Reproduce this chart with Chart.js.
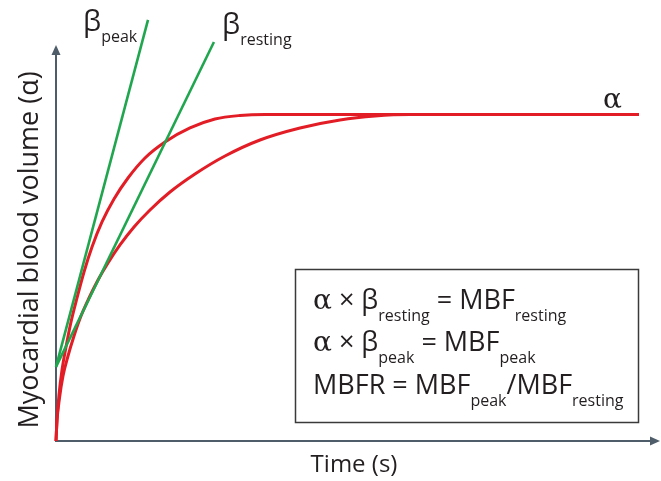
<!DOCTYPE html>
<html>
<head>
<meta charset="utf-8">
<script src="https://cdn.jsdelivr.net/npm/chart.js@4.4.0/dist/chart.umd.min.js"></script>
<style>
  html, body { margin: 0; padding: 0; background: #fff; }
  #wrap { width: 661px; height: 481px; }
</style>
</head>
<body>
<div id="wrap"><canvas id="chart" width="661" height="481"></canvas></div>
<script>
// Uptake curves (time in s, blood volume normalised to the plateau α),
// read off the figure. Fast = peak stress, slow = resting.
const FAST_T = [0, 0.099, 0.298, 0.596, 0.993, 1.49, 2.086, 2.781, 3.576, 4.57, 5.762, 7.152, 8.841, 10.828, 13.311, 15.795, 18.278, 20.762, 57.91];
const FAST_V = [0, 0.0643, 0.1409, 0.2175, 0.2879, 0.3645, 0.438, 0.5176, 0.5942, 0.6708, 0.7412, 0.8055, 0.8668, 0.9158, 0.9587, 0.9862, 0.9969, 1.0, 1.0];
const SLOW_T = [0, 0.099, 0.348, 0.695, 1.192, 1.788, 2.483, 3.278, 4.172, 5.166, 6.358, 7.748, 9.338, 11.325, 13.808, 16.788, 20.265, 24.238, 28.212, 31.689, 35.166, 57.91];
const SLOW_V = [0, 0.0613, 0.1317, 0.1991, 0.2603, 0.3216, 0.3828, 0.438, 0.4931, 0.5452, 0.6003, 0.6554, 0.7075, 0.7626, 0.8178, 0.8729, 0.9219, 0.9587, 0.9832, 0.9954, 1.0, 1.0];

// Initial-slope lines (β) — start and end point of each
const PEAK_T = [0, 9.14];
const PEAK_V = [0.227, 1.29];
const REST_T = [0, 15.69];
const REST_V = [0.227, 1.222];

const Y_AXIS_TOP = 1.213;   // where the y arrow stops
const X_AXIS_END = 60;      // where the x arrow stops
const ALPHA_LEVEL = 1.0;

const RED = "#e21d26";
const GREEN = "#20a64e";
const AXIS = "#4e5d69";
const INK = "#231f20";

const MAIN = '27px "Open Sans"';
const SUB = '16px "Open Sans"';
const SERIF = '28px "DejaVu Serif"';

const pts = (ts, vs) => ts.map((t, i) => ({ x: t, y: vs[i] }));

// draw a run of text pieces one after the other: [text, font, dy]
function flow(ctx, x, base, parts) {
  for (const [txt, font, dy] of parts) {
    ctx.font = font;
    ctx.fillText(txt, x, base + (dy || 0));
    x += ctx.measureText(txt).width;
  }
  return x;
}

const decor = {
  id: "decor",
  beforeDatasetsDraw(chart) {
    const { ctx, scales: { x, y } } = chart;
    const x0 = x.getPixelForValue(0), y0 = y.getPixelForValue(0);
    const yTop = y.getPixelForValue(Y_AXIS_TOP);
    const xEnd = x.getPixelForValue(X_AXIS_END);
    ctx.save();
    ctx.strokeStyle = AXIS;
    ctx.fillStyle = AXIS;
    ctx.lineWidth = 2;
    ctx.beginPath();
    ctx.moveTo(x0, y0 + 1);
    ctx.lineTo(x0, yTop + 8);
    ctx.moveTo(x0 - 1, y0);
    ctx.lineTo(xEnd - 8, y0);
    ctx.stroke();
    ctx.beginPath();
    ctx.moveTo(x0, yTop);
    ctx.lineTo(x0 - 4.5, yTop + 10);
    ctx.lineTo(x0 + 4.5, yTop + 10);
    ctx.closePath();
    ctx.fill();
    ctx.beginPath();
    ctx.moveTo(xEnd, y0);
    ctx.lineTo(xEnd - 10, y0 - 4.5);
    ctx.lineTo(xEnd - 10, y0 + 4.5);
    ctx.closePath();
    ctx.fill();
    ctx.restore();
  },
  afterDraw(chart) {
    const { ctx, scales: { y } } = chart;
    ctx.save();
    ctx.fillStyle = INK;
    ctx.textBaseline = "alphabetic";

    // axis titles
    ctx.font = '27px "Open Sans"';
    ctx.textAlign = "center";
    ctx.save();
    ctx.translate(38, 250);
    ctx.rotate(-Math.PI / 2);
    ctx.fillText("Myocardial blood volume (α)", 0, 0);
    ctx.restore();
    ctx.font = '24px "Open Sans"';
    ctx.fillText("Time (s)", 354, 472);
    ctx.textAlign = "left";

    // curve labels
    flow(ctx, 83, 31, [["β", '29px "Open Sans"'], ["peak", SUB, 11]]);
    flow(ctx, 222, 34, [["β", '29px "Open Sans"'], ["resting", SUB, 11]]);
    ctx.font = SERIF;
    ctx.fillText("α", 603, y.getPixelForValue(ALPHA_LEVEL) - 6);

    // equation box
    ctx.strokeStyle = "#3a3a3a";
    ctx.lineWidth = 1.5;
    ctx.strokeRect(295.5, 269.5, 343, 153);
    const d = 12;
    flow(ctx, 313, 309, [
      ["α", SERIF], [" × ", MAIN], ["β", MAIN], ["resting", SUB, d],
      [" = ", MAIN], ["MBF", MAIN], ["resting", SUB, d],
    ]);
    flow(ctx, 313, 351, [
      ["α", SERIF], [" × ", MAIN], ["β", MAIN], ["peak", SUB, d],
      [" = ", MAIN], ["MBF", MAIN], ["peak", SUB, d],
    ]);
    flow(ctx, 313, 394, [
      ["MBFR", MAIN], [" = ", MAIN], ["MBF", MAIN], ["peak", SUB, d],
      ["/MBF", MAIN], ["resting", SUB, d],
    ]);
    ctx.restore();
  },
};

new Chart(document.getElementById("chart"), {
  type: "scatter",
  data: {
    datasets: [
      { label: "β peak", data: pts(PEAK_T, PEAK_V), borderColor: GREEN, borderWidth: 2.6 },
      { label: "β resting", data: pts(REST_T, REST_V), borderColor: GREEN, borderWidth: 2.6 },
      { label: "peak", data: pts(FAST_T, FAST_V), borderColor: RED, borderWidth: 3, cubicInterpolationMode: "monotone" },
      { label: "resting", data: pts(SLOW_T, SLOW_V), borderColor: RED, borderWidth: 3, cubicInterpolationMode: "monotone" },
    ].map((ds) => ({ ...ds, showLine: true, pointRadius: 0, fill: false, clip: false })),
  },
  options: {
    responsive: false,
    devicePixelRatio: 1,
    animation: false,
    layout: { padding: { left: 56, top: 10, right: 1, bottom: 40 } },
    plugins: { legend: { display: false }, tooltip: { enabled: false } },
    scales: {
      x: { type: "linear", min: 0, max: 60, display: false },
      y: { type: "linear", min: 0, max: 1.32, display: false },
    },
  },
  plugins: [decor],
});
</script>
</body>
</html>
